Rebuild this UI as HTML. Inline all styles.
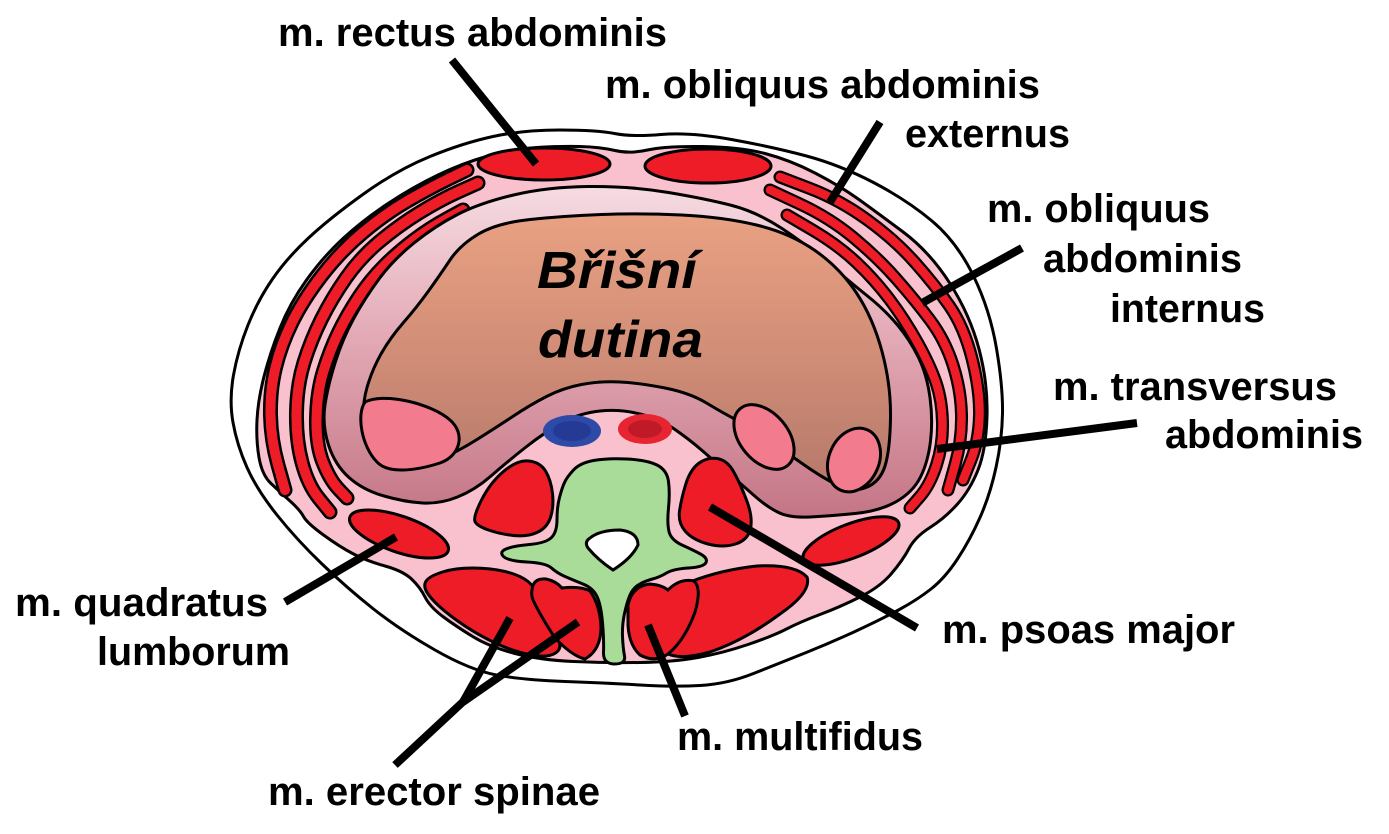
<!DOCTYPE html>
<html>
<head>
<meta charset="utf-8">
<style>
  html,body{margin:0;padding:0;background:#ffffff;}
  svg{display:block;}
  .lbl{font-family:"Liberation Sans",Arial,sans-serif;font-weight:bold;font-size:40px;fill:#000;}
  .ttl{font-family:"Liberation Sans",Arial,sans-serif;font-weight:bold;font-style:italic;font-size:52px;fill:#000;}
</style>
</head>
<body>
<svg width="1389" height="834" viewBox="0 0 1389 834" xmlns="http://www.w3.org/2000/svg">
  <defs>
    <linearGradient id="band" x1="0" y1="186" x2="0" y2="518" gradientUnits="userSpaceOnUse">
      <stop offset="0" stop-color="#f6dce3"/>
      <stop offset="0.45" stop-color="#e3aab6"/>
      <stop offset="1" stop-color="#c47585"/>
    </linearGradient>
    <linearGradient id="cav" x1="0" y1="213" x2="0" y2="493" gradientUnits="userSpaceOnUse">
      <stop offset="0" stop-color="#e9a182"/>
      <stop offset="0.5" stop-color="#d18d77"/>
      <stop offset="1" stop-color="#b4786a"/>
    </linearGradient>
  </defs>

  <rect width="1389" height="834" fill="#ffffff"/>

  <!-- outer skin -->
  <path d="M493,136.5 Q523,130 560,130 Q597,130 614.5,133.5 Q632,137 661,134.5 Q690,132 731.5,139.5 Q773,147 806.5,156 Q840,165 873.5,182.5 Q907,200 932,221 Q957,242 973.5,276 Q990,310 996.5,348.5 Q1003,387 1002.5,413.5 Q1002,440 996,467.5 Q990,495 980,517.5 Q970,540 957.5,559 Q945,578 931,589 Q917,600 898.5,610 Q880,620 855,631.5 Q830,643 805,653 Q780,663 753.5,673.5 Q727,684 700,685.5 Q673,687 640,685 Q607,683 565,681.5 Q523,680 496.5,675 Q470,670 435,650 Q400,630 373.5,609 Q347,588 322,564 Q297,540 277,515 Q257,490 247,467.5 Q237,445 233,422.5 Q229,400 233.5,375 Q238,350 248,325 Q258,300 272.5,279 Q287,258 308.5,238 Q330,218 363.5,194 Q397,170 430,156.5 Q463,143 493,136.5 Z" fill="#ffffff" stroke="#000" stroke-width="3"/>

  <!-- pink body -->
  <path d="M488,156 Q513,149 536.5,147.5 Q560,146 580,146.5 Q600,147 615,150.5 Q630,154 647.5,150 Q665,146 702.5,146.5 Q740,147 765,153.5 Q790,160 815,173 Q840,186 857.5,198.5 Q875,211 902.5,231.5 Q930,252 950,283.5 Q970,315 979,349 Q988,383 987,416.5 Q986,450 978,470 Q970,490 957.5,504 Q945,518 930,527.5 Q915,537 909,548.5 Q903,560 891.5,573.5 Q880,587 860,597 Q840,607 820,614.5 Q800,622 786.5,629 Q773,636 748,644.5 Q723,653 698,657.5 Q673,662 640,662.5 Q607,663 573.5,661.5 Q540,660 515,653.5 Q490,647 473.5,637 Q457,627 443.5,617 Q430,607 425,597 Q420,587 411.5,579 Q403,571 385,566 Q367,561 353.5,554 Q340,547 323.5,535 Q307,523 303.5,516.5 Q300,510 290,501 Q280,492 271,483.5 Q262,475 259,457.5 Q256,440 257,420 Q258,400 264,376.5 Q270,353 280,328 Q290,303 306.5,280 Q323,257 343,238.5 Q363,220 388,203.5 Q413,187 438,175 Q463,163 488,156 Z" fill="#f8c1cd" stroke="#000" stroke-width="3"/>

  <!-- rectus abdominis -->
  <ellipse cx="544" cy="164" rx="66" ry="16" fill="#ed1c27" stroke="#000" stroke-width="3"/>
  <ellipse cx="708" cy="166" rx="63" ry="17" fill="#ed1c27" stroke="#000" stroke-width="3"/>

  <!-- oblique / transversus stripes -->
  <g fill="none" stroke-linecap="round" stroke-linejoin="round">
    <g stroke="#000" stroke-width="15">
      <path d="M467,170 L448.5,179 Q430,188 407.5,201 Q385,214 362.5,233 Q340,252 321.5,276 Q303,300 292,322.5 Q281,345 275.5,367.5 Q270,390 270.5,415 Q271,440 278,465 L285,490"/>
      <path d="M478,183 L459,191.5 Q440,200 419,213 Q398,226 379,242 Q360,258 346,278 Q332,298 321.5,319 Q311,340 304,362.5 Q297,385 296.5,412.5 Q296,440 302,462.5 Q308,485 319,498.5 L330,512"/>
      <path d="M463,210 L446.5,219 Q430,228 414,240 Q398,252 384,266 Q370,280 358.5,297.5 Q347,315 338.5,332.5 Q330,350 323.5,371 Q317,392 316.5,418.5 Q316,445 323,462.5 Q330,480 338.5,489 L347,498"/>
    </g>
    <g stroke="#000" stroke-width="13">
      <path d="M780,177 L810,188.5 Q840,200 867.5,220 Q895,240 915,262.5 Q935,285 949.5,306 Q964,327 972,358.5 Q980,390 979.5,415 Q979,440 971,460 L963,480"/>
      <path d="M770,190 L800,204 Q830,218 854,238 Q878,258 896.5,279 Q915,300 930,320 Q945,340 953,365 Q961,390 961.5,415 Q962,440 955,465 L948,490"/>
      <path d="M787,215 L812.5,230 Q838,245 856.5,262.5 Q875,280 890,300 Q905,320 917.5,342.5 Q930,365 936,382.5 Q942,400 942.5,422.5 Q943,445 936.5,465 Q930,485 920,496.5 L910,508"/>
    </g>
    <g stroke="#ed1c27" stroke-width="10">
      <path d="M467,170 L448.5,179 Q430,188 407.5,201 Q385,214 362.5,233 Q340,252 321.5,276 Q303,300 292,322.5 Q281,345 275.5,367.5 Q270,390 270.5,415 Q271,440 278,465 L285,490"/>
      <path d="M478,183 L459,191.5 Q440,200 419,213 Q398,226 379,242 Q360,258 346,278 Q332,298 321.5,319 Q311,340 304,362.5 Q297,385 296.5,412.5 Q296,440 302,462.5 Q308,485 319,498.5 L330,512"/>
      <path d="M463,210 L446.5,219 Q430,228 414,240 Q398,252 384,266 Q370,280 358.5,297.5 Q347,315 338.5,332.5 Q330,350 323.5,371 Q317,392 316.5,418.5 Q316,445 323,462.5 Q330,480 338.5,489 L347,498"/>
    </g>
    <g stroke="#ed1c27" stroke-width="8.5">
      <path d="M780,177 L810,188.5 Q840,200 867.5,220 Q895,240 915,262.5 Q935,285 949.5,306 Q964,327 972,358.5 Q980,390 979.5,415 Q979,440 971,460 L963,480"/>
      <path d="M770,190 L800,204 Q830,218 854,238 Q878,258 896.5,279 Q915,300 930,320 Q945,340 953,365 Q961,390 961.5,415 Q962,440 955,465 L948,490"/>
      <path d="M787,215 L812.5,230 Q838,245 856.5,262.5 Q875,280 890,300 Q905,320 917.5,342.5 Q930,365 936,382.5 Q942,400 942.5,422.5 Q943,445 936.5,465 Q930,485 920,496.5 L910,508"/>
    </g>
  </g>

  <!-- peritoneal band -->
  <path d="M513.5,195 Q547,187 588.5,186.5 Q630,186 668.5,192.5 Q707,199 732,205.5 Q757,212 782,228.5 Q807,245 828.5,263.5 Q850,282 867.5,296 Q885,310 897.5,325 Q910,340 918.5,357.5 Q927,375 930,397.5 Q933,420 930.5,441 Q928,462 920.5,477 Q913,492 896.5,501.5 Q880,511 855,513.5 Q830,516 810,517 Q790,518 778.5,512.5 Q767,507 753.5,495 Q740,483 726.5,471.5 Q713,460 701.5,450 Q690,440 675,429.5 Q660,419 640,414 Q620,409 600,411 Q580,413 562.5,422.5 Q545,432 526,447 Q507,462 491,476 Q475,490 457.5,497 Q440,504 422.5,503 Q405,502 384,496 Q363,490 349,477.5 Q335,465 328.5,445 Q322,425 325,405 Q328,385 335.5,361.5 Q343,338 354,318 Q365,298 379,279 Q393,260 414,243 Q435,226 457.5,214.5 Q480,203 513.5,195 Z" fill="url(#band)" stroke="#000" stroke-width="3"/>

  <!-- abdominal cavity -->
  <path d="M478.5,234 Q497,223 530,219.5 Q563,216 601.5,214.5 Q640,213 681.5,215 Q723,217 756.5,225 Q790,233 815,250.5 Q840,268 856.5,293 Q873,318 882,351.5 Q891,385 890.5,417.5 Q890,450 885,466 Q880,482 866,487.5 Q852,493 836,484.5 Q820,476 805,465.5 Q790,455 770,441 Q750,427 736.5,420 Q723,413 706.5,403 Q690,393 665,388 Q640,383 620,382 Q600,381 581.5,384.5 Q563,388 546.5,396.5 Q530,405 513.5,416 Q497,427 477,439.5 Q457,452 438.5,460 Q420,468 402.5,469 Q385,470 375,457.5 Q365,445 363.5,425 Q362,405 367,387.5 Q372,370 381,354 Q390,338 403.5,322.5 Q417,307 428.5,291 Q440,275 450,260 Q460,245 478.5,234 Z" fill="url(#cav)" stroke="#000" stroke-width="3"/>

  <!-- kidneys -->
  <path d="M365,402 C385,392 432,404 450,420 C466,434 460,456 440,463 C415,471 388,474 377,462 C362,447 356,415 365,402 Z" fill="#f27b8e" stroke="#000" stroke-width="3"/>
  <ellipse cx="764" cy="437" rx="37" ry="24" transform="rotate(50 764 437)" fill="#f27b8e" stroke="#000" stroke-width="3"/>
  <ellipse cx="854" cy="460" rx="33" ry="25" transform="rotate(114 854 460)" fill="#f27b8e" stroke="#000" stroke-width="3"/>

  <!-- vessels -->
  <ellipse cx="572" cy="431" rx="29" ry="16" fill="#2d4aa8"/>
  <ellipse cx="572" cy="431" rx="19" ry="10" fill="#243a94"/>
  <ellipse cx="645" cy="429" rx="27" ry="15" fill="#e62530"/>
  <ellipse cx="645" cy="429" rx="17" ry="9" fill="#c01a28"/>

  <!-- quadratus lumborum -->
  <ellipse cx="399" cy="534" rx="52" ry="18" transform="rotate(19 399 534)" fill="#ed1c27" stroke="#000" stroke-width="3"/>
  <ellipse cx="851" cy="541" rx="51" ry="17" transform="rotate(-21 851 541)" fill="#ed1c27" stroke="#000" stroke-width="3"/>

  <!-- psoas -->
  <path d="M475,521.5 Q473,517 481.5,500 Q490,483 503.5,471.5 Q517,460 528.5,461 Q540,462 545.5,471 Q551,480 552.5,493.5 Q554,507 550.5,517.5 Q547,528 537,532.5 Q527,537 513.5,535.5 Q500,534 488.5,530 Q477,526 475,521.5 Z" fill="#ed1c27" stroke="#000" stroke-width="3"/>
  <path d="M685.5,531.5 Q678,523 679.5,511.5 Q681,500 685.5,485 Q690,470 698.5,463.5 Q707,457 717,458.5 Q727,460 733.5,471.5 Q740,483 746.5,500 Q753,517 750.5,528.5 Q748,540 735.5,544 Q723,548 708,544 Q693,540 685.5,531.5 Z" fill="#ed1c27" stroke="#000" stroke-width="3"/>

  <!-- spine -->
  <path d="M564.5,482.5 Q567,477 573.5,470 Q580,463 593.5,460.5 Q607,458 627,459 Q647,460 657,465 Q667,470 668.5,481.5 Q670,493 668.5,508 Q667,523 669,531.5 Q671,540 682,545 Q693,550 700.5,554 Q708,558 706,562.5 Q704,567 688.5,568 Q673,569 666.5,573 Q660,577 652.5,579 Q645,581 639,584.5 Q633,588 630,595 Q627,602 624.5,613.5 Q622,625 622.5,636.5 Q623,648 624.5,656 Q626,664 614.5,664 Q603,664 603.5,652 Q604,640 602.5,622.5 Q601,605 597,596.5 Q593,588 583,584 Q573,580 565,576.5 Q557,573 551.5,568 Q546,563 527,562 Q508,561 503.5,556.5 Q499,552 506,549 Q513,546 529.5,544.5 Q546,543 551.5,537.5 Q557,532 557,519.5 Q557,507 559.5,497.5 Q562,488 564.5,482.5 Z" fill="#a8dc98" stroke="#000" stroke-width="3"/>
  <path d="M590,538 Q600,530 620,530 Q638,532 638,545 Q632,558 613,570 Q598,560 588,548 Q584,542 590,538 Z" fill="#ffffff" stroke="#000" stroke-width="3"/>

  <!-- erector spinae & multifidus -->
  <path d="M426.5,580.5 Q430,576 442.5,572 Q455,568 472.5,568 Q490,568 505,571.5 Q520,575 528,581.5 Q536,588 539.5,598 Q543,608 548,619 Q553,630 558,639 Q563,648 555.5,653 Q548,658 531.5,655 Q515,652 497.5,644 Q480,636 465,626 Q450,616 440,607 Q430,598 426.5,591.5 Q423,585 426.5,580.5 Z" fill="#ed1c27" stroke="#000" stroke-width="3"/>
  <path d="M532,590 Q533,578 546,579 Q556,581 562,588 Q580,586 590,591 Q600,605 601,627 Q601,650 585,659 Q572,656 555,638 Q540,615 533,600 Q531,595 532,590 Z" fill="#ed1c27" stroke="#000" stroke-width="3"/>
  <path d="M690,582 Q720,570 757,566 Q795,564 807,577 Q812,592 780,614 Q745,640 710,652 Q682,660 668,654 Q680,630 690,582 Z" fill="#ed1c27" stroke="#000" stroke-width="3"/>
  <path d="M628,605 Q632,586 650,584 Q662,585 668,590 Q680,578 694,581 Q702,588 695,612 Q685,640 668,654 Q655,663 640,655 Q629,645 628,625 Z" fill="#ed1c27" stroke="#000" stroke-width="3"/>

  <!-- connectors -->
  <g stroke="#000" stroke-width="8" fill="none" stroke-linecap="butt">
    <line x1="452" y1="60" x2="536" y2="164"/>
    <line x1="880" y1="122" x2="830" y2="202"/>
    <line x1="1022" y1="248" x2="922" y2="303"/>
    <line x1="1137" y1="423" x2="937" y2="449"/>
    <line x1="285" y1="602" x2="396" y2="537"/>
    <line x1="710" y1="507" x2="917" y2="628"/>
    <line x1="510" y1="618" x2="463" y2="702"/>
    <line x1="578" y1="622" x2="463" y2="702"/>
    <line x1="465" y1="700" x2="395" y2="765"/>
    <line x1="648" y1="625" x2="685" y2="716"/>
  </g>

  <!-- title -->
  <text class="ttl" x="537" y="288" textLength="160" lengthAdjust="spacingAndGlyphs">Břišní</text>
  <text class="ttl" x="538" y="357" textLength="165" lengthAdjust="spacingAndGlyphs">dutina</text>

  <!-- labels -->
  <text class="lbl" x="278" y="46" textLength="389" lengthAdjust="spacingAndGlyphs">m. rectus abdominis</text>
  <text class="lbl" x="605" y="98" textLength="435" lengthAdjust="spacingAndGlyphs">m. obliquus abdominis</text>
  <text class="lbl" x="905" y="147" textLength="165" lengthAdjust="spacingAndGlyphs">externus</text>
  <text class="lbl" x="987" y="222" textLength="223" lengthAdjust="spacingAndGlyphs">m. obliquus</text>
  <text class="lbl" x="1043" y="272" textLength="199" lengthAdjust="spacingAndGlyphs">abdominis</text>
  <text class="lbl" x="1110" y="322" textLength="155" lengthAdjust="spacingAndGlyphs">internus</text>
  <text class="lbl" x="1053" y="400" textLength="284" lengthAdjust="spacingAndGlyphs">m. transversus</text>
  <text class="lbl" x="1165" y="448" textLength="198" lengthAdjust="spacingAndGlyphs">abdominis</text>
  <text class="lbl" x="15" y="616" textLength="253" lengthAdjust="spacingAndGlyphs">m. quadratus</text>
  <text class="lbl" x="97" y="665" textLength="193" lengthAdjust="spacingAndGlyphs">lumborum</text>
  <text class="lbl" x="268" y="805" textLength="332" lengthAdjust="spacingAndGlyphs">m. erector spinae</text>
  <text class="lbl" x="677" y="750" textLength="246" lengthAdjust="spacingAndGlyphs">m. multifidus</text>
  <text class="lbl" x="942" y="643" textLength="293" lengthAdjust="spacingAndGlyphs">m. psoas major</text>
</svg>
</body>
</html>
